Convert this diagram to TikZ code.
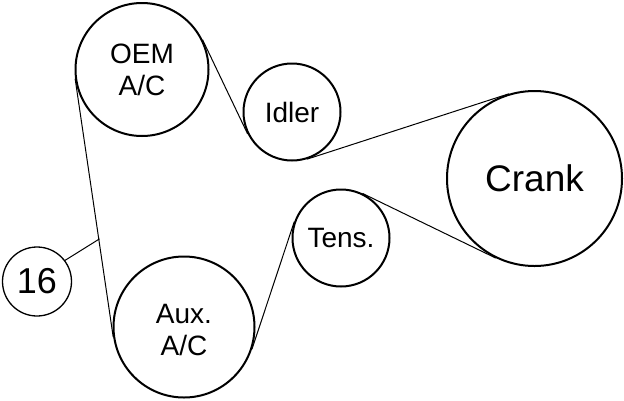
\documentclass[tikz,border=0pt]{standalone}
\usepackage{fontspec}
\setmainfont{Liberation Sans}
\tikzset{
  pulley/.style={draw=black,circle,line width=2pt,inner sep=0pt,align=center,font=\fontsize{28}{32}\selectfont},
  callout/.style={draw=black,circle,line width=1.3pt,inner sep=0pt,font=\fontsize{36}{36}\selectfont},
  belt/.style={draw=black,line width=1pt,line cap=round}
}
\begin{document}
\begin{tikzpicture}[x=1pt,y=-1pt]
\useasboundingbox (0,0) rectangle (624,400);
\node[pulley,minimum size=133pt] (oem) at (142,69.5) {OEM\\A/C};
\node[pulley,minimum size=97pt] (idler) at (292,112) {Idler};
\node[pulley,minimum size=175pt,font=\fontsize{37}{40}\selectfont] (crank) at (534.5,178.5) {Crank};
\node[pulley,minimum size=97pt] (tens) at (341,238) {Tens.};
\node[pulley,minimum size=141pt] (aux) at (184,327) {\rule{0pt}{25pt}Aux.\\A/C};
\node[callout,minimum size=69pt] (sixteen) at (37,281.5) {16};
\coordinate (junction) at (99.3,239);
\draw[belt] (oem.188.4) -- (aux.188.4);
\draw[belt] (oem.26.2) -- (idler.206.2);
\draw[belt] (idler.-72.3) -- (crank.107.7);
\draw[belt] (tens.64.5) -- (crank.244.5);
\draw[belt] (aux.-18.8) -- (tens.161.2);
\draw[belt] (sixteen.37.5) -- (junction);
\end{tikzpicture}
\end{document}
